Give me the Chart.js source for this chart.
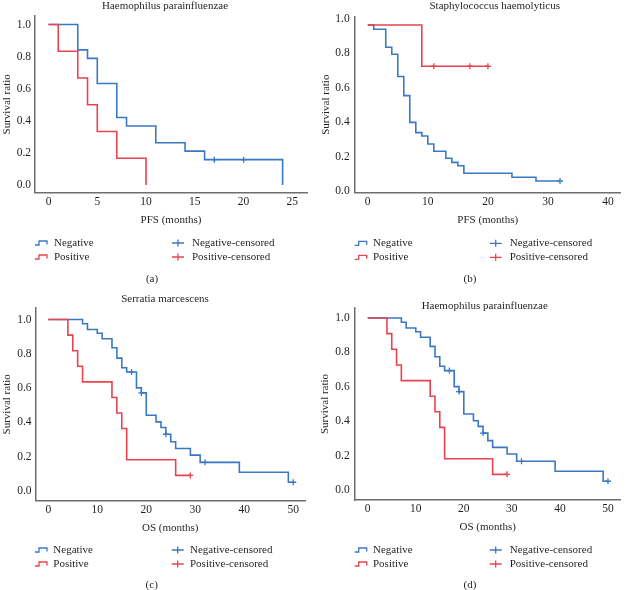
<!DOCTYPE html>
<html><head><meta charset="utf-8">
<script src="https://cdn.jsdelivr.net/npm/chart.js@4.4.1/dist/chart.umd.min.js"></script>
<style>
html,body{margin:0;padding:0;background:#fff;}
#wrap{position:relative;width:626px;height:590px;overflow:hidden;background:#fff;}
.p{position:absolute;}
canvas{display:block;}
</style></head><body>
<div id="wrap">
<div class="p" style="left:0;top:0;"><canvas id="ca" width="313" height="290"></canvas></div>
<div class="p" style="left:313px;top:0;"><canvas id="cb" width="313" height="290"></canvas></div>
<div class="p" style="left:0;top:290px;"><canvas id="cc" width="313" height="300"></canvas></div>
<div class="p" style="left:313px;top:290px;"><canvas id="cd" width="313" height="300"></canvas></div>
</div>
<script>
// ---------- DATA ----------
const yTickValues = [0, 0.2, 0.4, 0.6, 0.8, 1.0];
const pfsTicksA = [0, 5, 10, 15, 20, 25];
const pfsTicksB = [0, 10, 20, 30, 40];
const osTicks = [0, 10, 20, 30, 40, 50];

// (a) Haemophilus parainfluenzae, PFS
const hpPfsNegTime = [0, 3, 4, 5, 7, 8, 11, 14, 16, 24];
const hpPfsNegSurv = [1, 0.842, 0.789, 0.632, 0.421, 0.368, 0.263, 0.211, 0.158, 0];
const hpPfsNegCensTime = [17, 20];
const hpPfsNegCensSurv = [0.158, 0.158];
const hpPfsPosTime = [0, 1, 3, 4, 5, 7, 10];
const hpPfsPosSurv = [1, 0.833, 0.667, 0.5, 0.333, 0.167, 0];

// (b) Staphylococcus haemolyticus, PFS
const shPfsNegTime = [0, 1, 3, 4, 5, 6, 7, 8, 9, 10, 11, 13, 14, 15, 16, 24, 28, 32];
const shPfsNegSurv = [0.965, 0.94, 0.835, 0.795, 0.665, 0.554, 0.399, 0.339, 0.32, 0.273, 0.231, 0.19, 0.166, 0.147, 0.103, 0.08, 0.058, 0.058];
const shPfsNegCensTime = [32];
const shPfsNegCensSurv = [0.058];
const shPfsPosTime = [0, 9, 20];
const shPfsPosSurv = [0.965, 0.725, 0.725];
const shPfsPosCensTime = [11, 17, 20];
const shPfsPosCensSurv = [0.725, 0.725, 0.725];

// (c) Serratia marcescens, OS  and (d) Haemophilus parainfluenzae, OS
const osNegTime = [0, 7, 8, 10, 11, 13, 14, 15, 16, 18, 19, 20, 22, 23, 24, 25, 26, 29, 31, 39, 49, 50];
const osNegSurv = [1, 0.975, 0.942, 0.92, 0.888, 0.835, 0.775, 0.719, 0.694, 0.601, 0.572, 0.442, 0.403, 0.37, 0.331, 0.287, 0.248, 0.209, 0.167, 0.109, 0.051, 0.051];
const osNegCensTime = [17, 19, 24, 32, 50];
const osNegCensSurv = [0.694, 0.572, 0.331, 0.167, 0.051];
const osPosTime = [0, 4, 5, 6, 7, 13, 14, 15, 16, 26, 29];
const osPosSurv = [1, 0.909, 0.818, 0.727, 0.636, 0.545, 0.455, 0.364, 0.182, 0.091, 0.091];
const osPosCensTime = [29];
const osPosCensSurv = [0.091];

// ---------- STYLE ----------
const BLUE = '#3b78c4';
const RED = '#e8434f';
const TEXT = '#231f20';
const AXIS = '#6e6e6e';
const FONT = '"Liberation Serif", "Times New Roman", serif';

function pts(t, s) { return t.map((v, i) => ({x: v, y: s[i]})); }
function stepDs(t, s, c) {
  return {data: pts(t, s), borderColor: c, backgroundColor: c, borderWidth: 1.6,
          pointRadius: 0, stepped: 'before', fill: false, tension: 0, showLine: true};
}
function censDs(t, s, c) {
  return {data: pts(t, s), borderColor: c, backgroundColor: c, borderWidth: 1.3,
          pointRadius: 3, pointStyle: 'cross', showLine: false};
}

const overlay = {
  id: 'overlay',
  afterDraw(chart, args, o) {
    const ctx = chart.ctx;
    ctx.save();
    ctx.fillStyle = TEXT;
    ctx.textBaseline = 'middle';
    ctx.font = '11px ' + FONT;
    ctx.textAlign = 'center';
    ctx.fillText(o.title, o.titleX, o.titleY);
    ctx.fillText(o.caption, o.capX, o.capY);
    ctx.textAlign = 'left';
    const items = [
      {kind: 'step', c: BLUE, x: o.c1, tx: o.t1, y: o.r1, label: 'Negative'},
      {kind: 'step', c: RED, x: o.c1, tx: o.t1, y: o.r2, label: 'Positive'},
      {kind: 'plus', c: BLUE, x: o.c2, tx: o.t2, y: o.r1, label: 'Negative-censored'},
      {kind: 'plus', c: RED, x: o.c2, tx: o.t2, y: o.r2, label: 'Positive-censored'}
    ];
    items.forEach(it => {
      ctx.strokeStyle = it.c;
      ctx.lineWidth = 1.3;
      ctx.beginPath();
      if (it.kind === 'step') {
        ctx.moveTo(it.x, it.y + 2);
        ctx.lineTo(it.x + 4, it.y + 2);
        ctx.lineTo(it.x + 4, it.y - 2);
        ctx.lineTo(it.x + 12, it.y - 2);
        ctx.lineTo(it.x + 12, it.y + 1.5);
      } else {
        ctx.moveTo(it.x, it.y);
        ctx.lineTo(it.x + 12, it.y);
        ctx.moveTo(it.x + 6, it.y - 3.5);
        ctx.lineTo(it.x + 6, it.y + 3.5);
      }
      ctx.stroke();
      ctx.fillStyle = TEXT;
      ctx.fillText(it.label, it.tx, it.y);
    });
    ctx.restore();
  }
};

function makeChart(id, P) {
  const canvas = document.getElementById(id);
  const W = canvas.width, H = canvas.height;
  const lh = 11 * 1.2;
  const xH = P.xTitleY - P.bottom + lh / 2;
  return new Chart(canvas, {
    type: 'line',
    data: {datasets: P.datasets},
    plugins: [overlay],
    options: {
      responsive: false, animation: false, devicePixelRatio: 1,
      layout: {padding: {left: 0, top: P.top, right: W - P.right, bottom: H - P.bottom - xH}},
      plugins: {legend: {display: false}, tooltip: {enabled: false}, title: {display: false},
                overlay: P.overlay},
      scales: {
        x: {
          type: 'linear', min: P.xMin, max: P.xMax,
          afterBuildTicks: s => { s.ticks = P.xTicks.map(v => ({value: v})); },
          afterFit: s => { s.height = xH; },
          grid: {display: false, drawTicks: false},
          border: {color: AXIS, width: 1.5},
          ticks: {padding: P.xPad, font: {family: FONT, size: 11.5}, color: TEXT,
                  maxRotation: 0, autoSkip: false, callback: v => String(v)},
          title: {display: true, text: P.xTitle, font: {family: FONT, size: 11}, color: TEXT,
                  padding: {top: 0, bottom: 0}}
        },
        y: {
          type: 'linear', min: P.yMin, max: P.yMax,
          afterBuildTicks: s => { s.ticks = yTickValues.map(v => ({value: v})); },
          afterFit: s => { s.width = P.left; },
          grid: {display: false, drawTicks: false},
          border: {color: AXIS, width: 1.5},
          ticks: {padding: P.yPad, font: {family: FONT, size: 11.5}, color: TEXT,
                  callback: v => Number(v).toFixed(1)},
          title: {display: true, text: 'Survival ratio', font: {family: FONT, size: 11}, color: TEXT,
                  padding: {top: P.yTitleX - lh / 2, bottom: 0}}
        }
      }
    }
  });
}

makeChart('ca', {
  left: 35, top: 16, right: 307, bottom: 192.7,
  xMin: -1.385, xMax: 26.5, yMin: -0.048, yMax: 1.053,
  xTicks: pfsTicksA, xTitle: 'PFS (months)', xTitleY: 220, xPad: 2.8, yPad: 4, yTitleX: 7.5,
  datasets: [
    stepDs(hpPfsPosTime, hpPfsPosSurv, RED),
    stepDs(hpPfsNegTime, hpPfsNegSurv, BLUE),
    censDs(hpPfsNegCensTime, hpPfsNegCensSurv, BLUE)
  ],
  overlay: {title: 'Haemophilus parainfluenzae', titleX: 165, titleY: 6,
            caption: '(a)', capX: 152, capY: 279,
            r1: 243, r2: 257, c1: 35, t1: 54, c2: 172, t2: 192}
});

makeChart('cb', {
  left: 41.7, top: 16.7, right: 313, bottom: 192.7,
  xMin: -2.17, xMax: 42.1, yMin: -0.01, yMax: 1.013,
  xTicks: pfsTicksB, xTitle: 'PFS (months)', xTitleY: 220, xPad: 2.8, yPad: 5, yTitleX: 13.3,
  datasets: [
    stepDs(shPfsPosTime, shPfsPosSurv, RED),
    censDs(shPfsPosCensTime, shPfsPosCensSurv, RED),
    stepDs(shPfsNegTime, shPfsNegSurv, BLUE),
    censDs(shPfsNegCensTime, shPfsNegCensSurv, BLUE)
  ],
  overlay: {title: 'Staphylococcus haemolyticus', titleX: 181.7, titleY: 6,
            caption: '(b)', capX: 157, capY: 279,
            r1: 243.3, r2: 257.3, c1: 41.7, t1: 60, c2: 176.7, t2: 196.7}
});

makeChart('cc', {
  left: 35.5, top: 18, right: 305, bottom: 210.7,
  xMin: -2.61, xMax: 52.4, yMin: -0.0566, yMax: 1.067,
  xTicks: osTicks, xTitle: 'OS (months)', xTitleY: 237.7, xPad: 2.2, yPad: 4, yTitleX: 7.5,
  datasets: [
    stepDs(osPosTime, osPosSurv, RED),
    censDs(osPosCensTime, osPosCensSurv, RED),
    stepDs(osNegTime, osNegSurv, BLUE),
    censDs(osNegCensTime, osNegCensSurv, BLUE)
  ],
  overlay: {title: 'Serratia marcescens', titleX: 165, titleY: 9.3,
            caption: '(c)', capX: 151.7, capY: 295,
            r1: 260, r2: 274, c1: 35, t1: 53.3, c2: 171.7, t2: 190}
});

makeChart('cd', {
  left: 41.7, top: 18, right: 313, bottom: 210,
  xMin: -2.71, xMax: 52.65, yMin: -0.058, yMax: 1.058,
  xTicks: osTicks, xTitle: 'OS (months)', xTitleY: 237, xPad: 2.2, yPad: 5, yTitleX: 12.5,
  datasets: [
    stepDs(osPosTime, osPosSurv, RED),
    censDs(osPosCensTime, osPosCensSurv, RED),
    stepDs(osNegTime, osNegSurv, BLUE),
    censDs(osNegCensTime, osNegCensSurv, BLUE)
  ],
  overlay: {title: 'Haemophilus parainfluenzae', titleX: 171.7, titleY: 15.7,
            caption: '(d)', capX: 157, capY: 295,
            r1: 260, r2: 274, c1: 41.7, t1: 60, c2: 176.7, t2: 196.7}
});
</script>
</body></html>
